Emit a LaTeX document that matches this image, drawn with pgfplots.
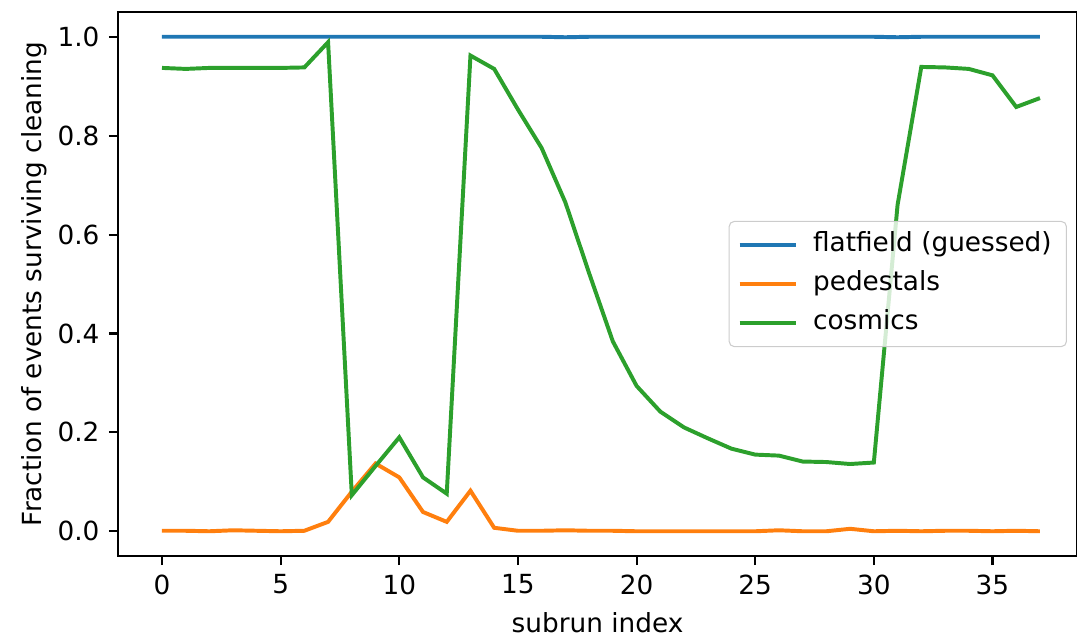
\documentclass[border=0pt]{standalone}
\usepackage{fontspec}
\setmainfont{DejaVu Sans}
\usepackage{pgfplots}
\pgfplotsset{compat=1.18}

\definecolor{c0}{HTML}{1F77B4}
\definecolor{c1}{HTML}{FF7F0E}
\definecolor{c2}{HTML}{2CA02C}

\begin{document}
\begin{tikzpicture}
\begin{axis}[%
  at={(0pt,0pt)}, anchor=south west,
  width=364.4pt, height=206.7pt,
  scale only axis,
  xmin=-1.854, xmax=38.56,
  ymin=-0.05, ymax=1.05,
  xtick={0,5,...,35},
  ytick={0,0.2,0.4,0.6,0.8,1.0},
  yticklabel style={/pgf/number format/.cd, fixed, fixed zerofill, precision=1},
  /pgf/number format/assume math mode=true,
  tick align=outside,
  major tick length=3.5pt,
  tick style={line width=0.8pt, black},
  axis line style={line width=0.8pt},
  xtick pos=bottom, ytick pos=left,
  font=\fontsize{10}{12}\selectfont,
  ticklabel style={font=\fontsize{10}{12}\selectfont},
  xlabel={subrun index},
  ylabel={Fraction of events surviving cleaning},
  ylabel style={yshift=-3pt},
  legend cell align=left,
  legend style={at={(0.9896,0.5)}, anchor=east,
    draw=black!20, rounded corners=2pt, fill=white, fill opacity=0.8, text opacity=1,
    font=\fontsize{10}{12}\selectfont,
    inner xsep=3.2pt, inner ysep=1.6pt,
    nodes={inner sep=2.4pt, text height=7.5pt, text depth=2.5pt},
    /tikz/every odd column/.append style={column sep=3.2pt}},
  legend image code/.code={\draw[#1] (0cm,0cm) -- (0.76cm,0cm);},
]
\addplot[color=c0, line width=1.5pt] table {
0 1.0
1 1.0
2 1.0
3 1.0
4 1.0
5 1.0
6 1.0
7 1.0
8 1.0
9 1.0
10 1.0
11 1.0
12 1.0
13 1.0
14 1.0
15 1.0
16 1.0
17 0.999
18 1.0
19 1.0
20 1.0
21 1.0
22 1.0
23 1.0
24 1.0
25 1.0
26 1.0
27 1.0
28 1.0
29 1.0
30 1.0
31 0.999
32 1.0
33 1.0
34 1.0
35 1.0
36 1.0
37 1.0
};
\addlegendentry{flatfield (guessed)}

\addplot[color=c1, line width=1.5pt] table {
0 0.001
1 0.001
2 0.0
3 0.002
4 0.001
5 0.0
6 0.001
7 0.019
8 0.080
9 0.137
10 0.109
11 0.039
12 0.019
13 0.082
14 0.007
15 0.001
16 0.001
17 0.002
18 0.001
19 0.001
20 0.0
21 0.0
22 0.0
23 0.0
24 0.0
25 0.0
26 0.002
27 0.0
28 0.0
29 0.005
30 0.0
31 0.001
32 0.0
33 0.001
34 0.001
35 0.0
36 0.001
37 0.0
};
\addlegendentry{pedestals}

\addplot[color=c2, line width=1.5pt] table {
0 0.937
1 0.935
2 0.937
3 0.937
4 0.937
5 0.937
6 0.938
7 0.989
8 0.073
9 0.132
10 0.190
11 0.109
12 0.076
13 0.962
14 0.935
15 0.853
16 0.775
17 0.665
18 0.522
19 0.384
20 0.294
21 0.242
22 0.210
23 0.188
24 0.167
25 0.155
26 0.153
27 0.141
28 0.140
29 0.136
30 0.139
31 0.660
32 0.939
33 0.938
34 0.935
35 0.922
36 0.858
37 0.876
};
\addlegendentry{cosmics}
\end{axis}
\pgfresetboundingbox
\path[use as bounding box] (-44.84pt,-31.54pt) rectangle (364.42pt,211.28pt);
\end{tikzpicture}
\end{document}
